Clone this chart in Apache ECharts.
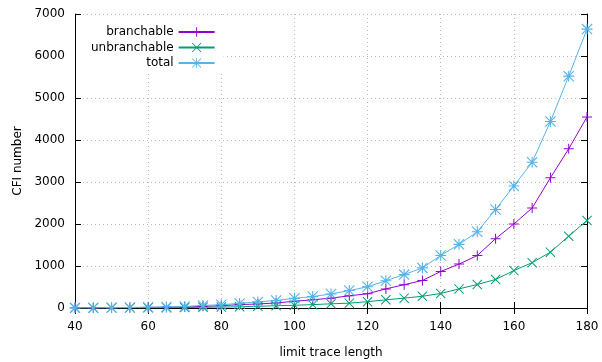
<!DOCTYPE html>
<html>
<head>
<meta charset="utf-8">
<script src="https://cdn.jsdelivr.net/npm/echarts@6/dist/echarts.min.js"></script>
<style>
html,body{margin:0;padding:0;background:#fff;}
#chart{width:602px;height:362px;}
</style>
</head>
<body>
<div id="chart"></div>
<script>
const traceLength = [40,45,50,55,60,65,70,75,80,85,90,95,100,105,110,115,120,125,130,135,140,145,150,155,160,165,170,175,180];
const branchable = [3,5,7,10,14,19,26,40,55,80,95,120,160,195,235,290,340,455,555,655,870,1045,1250,1650,2000,2380,3100,3790,4550];
const unbranchable = [1,2,3,4,6,8,11,18,22,30,40,55,65,80,100,115,150,195,235,280,345,455,560,680,890,1080,1330,1710,2085];
const total = [4,6,9,13,18,25,35,60,78,110,145,180,230,272,335,415,505,650,795,955,1250,1515,1815,2345,2905,3470,4440,5520,6640];
const xTicks = [40,60,80,100,120,140,160,180];
const yTicks = [0,1000,2000,3000,4000,5000,6000,7000];

const FONT = 'DejaVu Sans';
const PLUS = 'path://M4.5,0H5.5V10H4.5Z M0,4.5H10V5.5H0Z';
const CROSS = 'path://M0,0.7L0.7,0L10,9.3L9.3,10Z M9.3,0L10,0.7L0.7,10L0,9.3Z';
const STAR = 'path://M4.5,0H5.5V10H4.5Z M0,4.5H10V5.5H0Z M0,0.7L0.7,0L10,9.3L9.3,10Z M9.3,0L10,0.7L0.7,10L0,9.3Z';

function pairs(arr){ return traceLength.map((x,i)=>[x,arr[i]]); }

const gridStyle = {show:true, lineStyle:{color:'#b8b8b8', width:1, type:[1,3]}};
const chart = echarts.init(document.getElementById('chart'), null, {renderer:'canvas'});
chart.setOption({
  animation:false,
  backgroundColor:'#fff',
  textStyle:{fontFamily:FONT},
  grid:{left:75, right:15, top:14, bottom:54, containLabel:false, outerBoundsMode:'none'},
  legend:{
    orient:'vertical', align:'right',
    left:76, top:15,
    padding:[11,8,2,15],
    backgroundColor:'#fff',
    itemWidth:36, itemHeight:12, itemGap:3.5,
    textStyle:{fontFamily:FONT, fontSize:12, color:'#000'},
    data:['branchable','unbranchable','total']
  },
  xAxis:[{
    type:'value', min:40, max:180, interval:20,
    name:'limit trace length', nameLocation:'middle', nameGap:39,
    nameTextStyle:{fontFamily:FONT, fontSize:12, color:'#000'},
    axisLine:{show:true, lineStyle:{color:'#000', width:1}},
    axisTick:{show:true, inside:true, length:6, lineStyle:{color:'#000'}},
    axisLabel:{fontFamily:FONT, fontSize:12, color:'#000', margin:13,
      formatter:v=>xTicks.includes(v)?String(v):''},
    splitLine:gridStyle
  },{
    type:'value', min:40, max:180, interval:20, position:'top',
    axisLine:{show:true, lineStyle:{color:'#000', width:1}},
    axisTick:{show:true, inside:true, length:6, lineStyle:{color:'#000'}},
    axisLabel:{show:false}, splitLine:{show:false}
  }],
  yAxis:[{
    type:'value', min:0, max:7000, interval:1000,
    name:'CFI number', nameLocation:'middle', nameGap:50, nameRotate:90,
    nameTextStyle:{fontFamily:FONT, fontSize:12, color:'#000'},
    axisLine:{show:true, lineStyle:{color:'#000', width:1}},
    axisTick:{show:true, inside:true, length:6, lineStyle:{color:'#000'}},
    axisLabel:{fontFamily:FONT, fontSize:12, color:'#000', margin:10,
      formatter:v=>yTicks.includes(v)?String(v):''},
    splitLine:gridStyle
  },{
    type:'value', min:0, max:7000, interval:1000, position:'right',
    axisLine:{show:true, lineStyle:{color:'#000', width:1}},
    axisTick:{show:true, inside:true, length:6, lineStyle:{color:'#000'}},
    axisLabel:{show:false}, splitLine:{show:false}
  }],
  series:[
    {name:'branchable', type:'line', data:pairs(branchable), symbol:PLUS, symbolSize:10,
     lineStyle:{color:'#9400d3', width:1}, itemStyle:{color:'#9400d3', borderWidth:0}},
    {name:'unbranchable', type:'line', data:pairs(unbranchable), symbol:CROSS, symbolSize:10,
     lineStyle:{color:'#009e73', width:1}, itemStyle:{color:'#009e73', borderWidth:0}},
    {name:'total', type:'line', data:pairs(total), symbol:STAR, symbolSize:11,
     lineStyle:{color:'#56b4e9', width:1}, itemStyle:{color:'#56b4e9', borderWidth:0}}
  ]
});
</script>
</body>
</html>
